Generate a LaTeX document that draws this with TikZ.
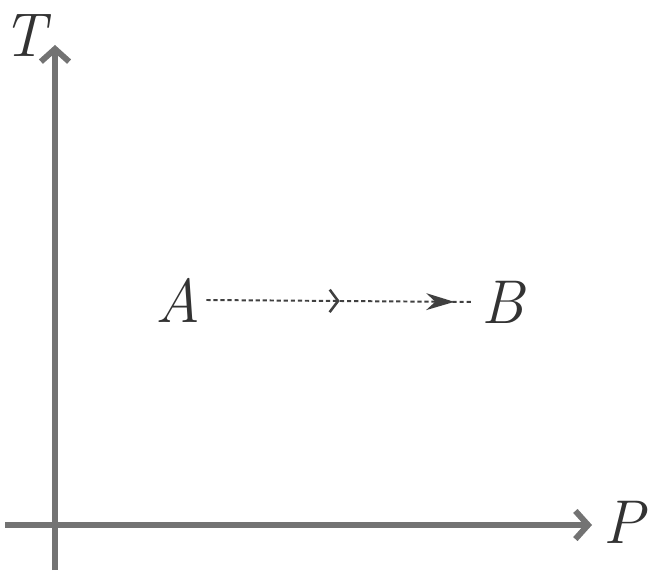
\documentclass[tikz,border=0pt]{standalone}
\usetikzlibrary{arrows.meta,decorations.markings}

\tikzset{
  axis/.style={draw=black!55, line width=4.2pt, -{Straight Barb[length=9pt,width=20pt,line width=4.2pt]}},
  lbl/.style={font=\fontsize{44}{44}\selectfont\itshape, text=black!80, inner sep=0pt},
  path ab/.style={draw=black!75, line width=1.4pt, densely dashed,
    postaction={decorate},
    decoration={markings,
      mark=at position 0.5 with {\arrow[solid,line width=1.8pt]{Straight Barb[length=6pt,width=16pt]}},
      mark=at position 0.93 with {\arrow[solid]{Stealth[length=20pt,width=12pt]}}}}
}

\begin{document}
\begin{tikzpicture}[x=0.025cm, y=-0.025cm]

\useasboundingbox (0, 0) rectangle (651, 571);

% axes
\coordinate (ybot) at (55, 570);
\coordinate (ytop) at (55, 45);
\coordinate (xleft) at (5, 525);
\coordinate (xright) at (592, 525);
\draw[axis] (ybot) -- (ytop);
\draw[axis] (xleft) -- (xright);
\node[lbl] (tlabel) at (24, 36) {T};
\node[lbl] (plabel) at (624, 522) {P};

% process A -> B
\node[lbl] (a) at (178, 300) {A};
\node[lbl] (b) at (503, 302) {B};
\draw[path ab] ([xshift=4pt]a.east) -- ([xshift=-6pt]b.west);

\end{tikzpicture}
\end{document}
